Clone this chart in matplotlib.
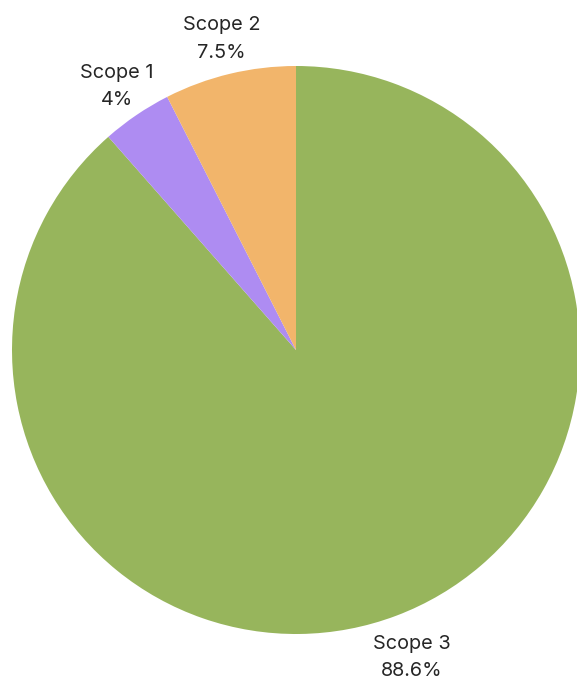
import numpy as np
import matplotlib.pyplot as plt

plt.rcParams['font.family'] = ['Inter', 'DejaVu Sans']

scopes = ["Scope 3", "Scope 1", "Scope 2"]
shares = [88.6, 4, 7.5]
colors = ["#97B55C", "#AE8CF2", "#F2B56B"]

fig = plt.figure(figsize=(5.77, 6.82), dpi=100)
ax = fig.add_axes([0, 0, 1, 1])

wedges, _ = ax.pie(shares, colors=colors, startangle=90, counterclock=False,
                   wedgeprops=dict(linewidth=0))

# label distance per slice (outside the pie)
label_dist = [1.158, 1.123, 1.126]
for w, s, v, d in zip(wedges, scopes, shares, label_dist):
    mid = np.deg2rad((w.theta1 + w.theta2) / 2)
    ax.text(d * np.cos(mid), d * np.sin(mid), f"{s}\n{v:g}%",
            ha="center", va="center", fontsize=14.3, color="#262626",
            linespacing=1.65)

# pie centre at (296, 350) px, radius ~284 px
r = 284.0
ax.set_aspect("auto")
ax.set_xlim(-296 / r, (577 - 296) / r)
ax.set_ylim(-(682 - 350) / r, 350 / r)
ax.axis("off")

fig.savefig("out.png", dpi=100)
